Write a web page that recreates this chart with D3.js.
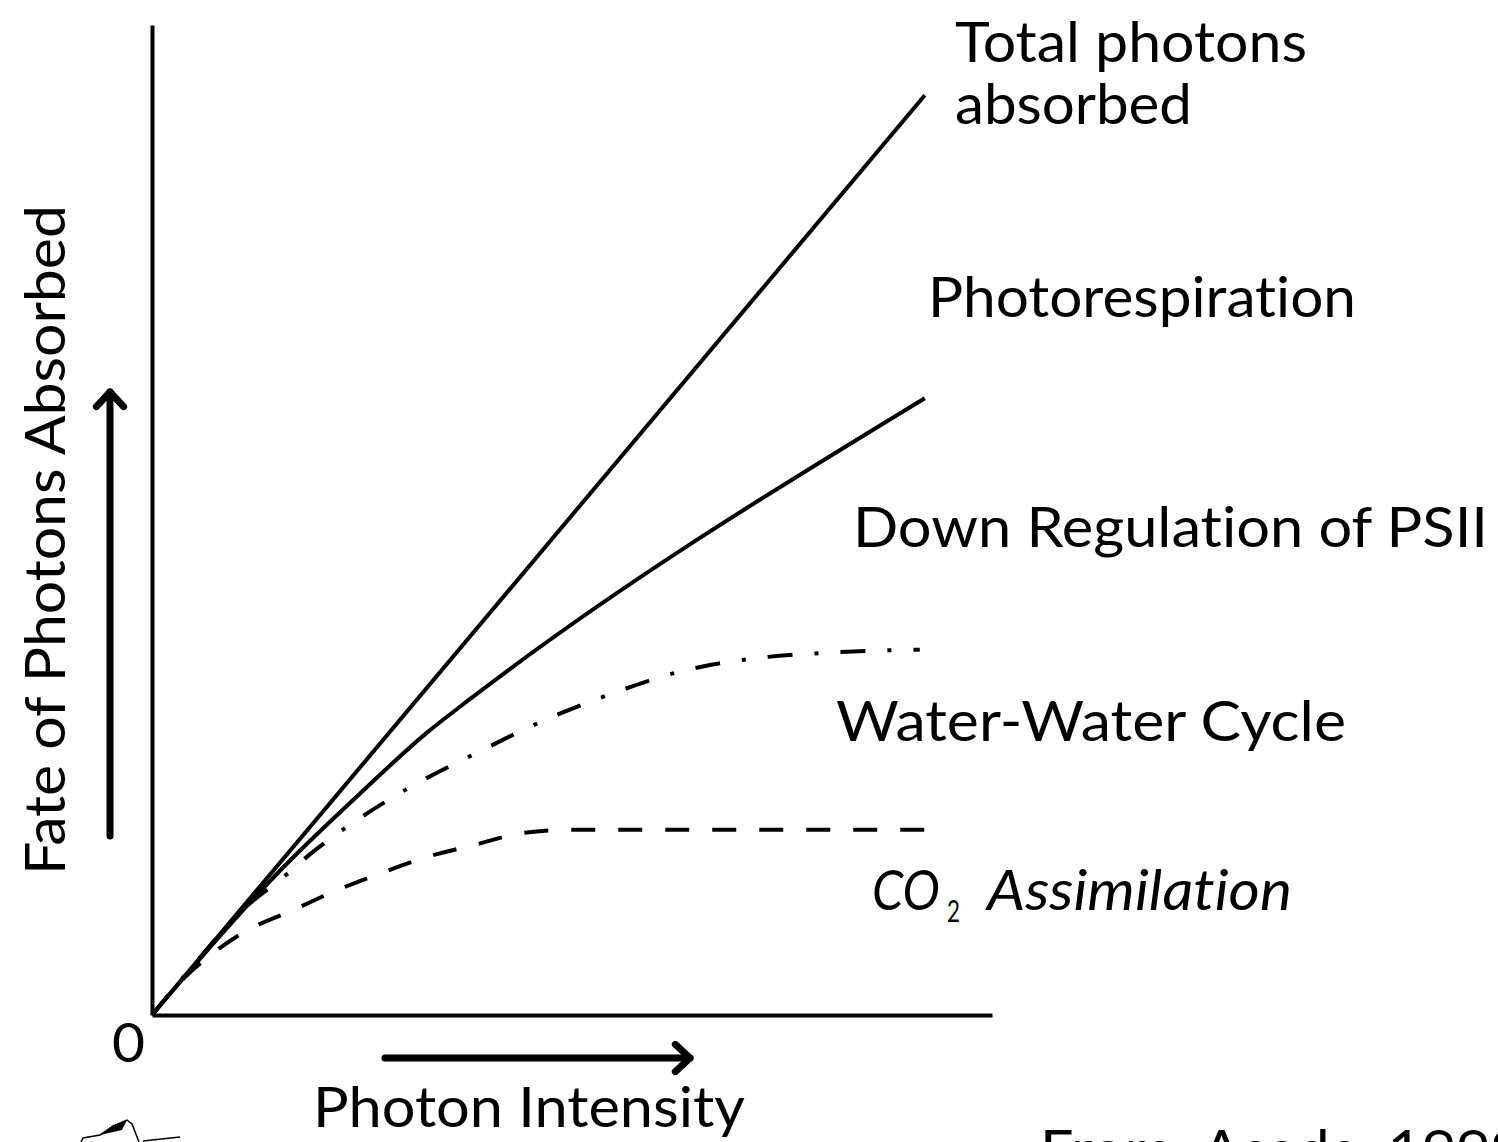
<!DOCTYPE html>
<html>
<head>
<meta charset="utf-8">
<script src="https://cdn.jsdelivr.net/npm/d3@7"></script>
<style>
  html, body { margin: 0; padding: 0; background: #fff; }
  svg { display: block; }
  text { font-variant-ligatures: none; font-feature-settings: "liga" 0, "clig" 0; }
</style>
</head>
<body>
<div id="chart"></div>
<script>
// x = photon intensity, y = fate of photons absorbed (arbitrary units 0-100)
var totalX = [0, 92.0];
var totalY = [0, 92.9];

var photorespX = [0, 15.6, 24.8, 32.7, 38.0, 92.0];
var photorespY = [0, 14.9, 22.4, 28.5, 32.0, 62.3];

var waterX = [0, 5.7, 10.5, 15.6, 19.2, 22.7, 30.5, 38.7, 46.8, 55.2, 62.9, 71.5, 80.4, 91.4];
var waterY = [0, 5.8, 10.4, 13.9, 16.5, 18.7, 22.9, 26.5, 29.8, 32.6, 34.7, 36.0, 36.6, 36.9];

var co2X = [0, 3.9, 6.9, 10.8, 16.8, 22.0, 27.5, 32.9, 38.5, 44.2, 49.8, 92.0];
var co2Y = [0, 3.8, 6.0, 8.3, 10.6, 12.6, 14.4, 16.0, 17.2, 18.4, 18.7, 18.7];

var labels = ["Total photons", "absorbed", "Photorespiration", "Down Regulation of PSII", "Water-Water Cycle", "Assimilation"];
var xTitle = "Photon Intensity";
var yTitle = "Fate of Photons Absorbed";
var source = "From: Asada, 1999";

var attrs = {
    svgWidth: 1498,
    svgHeight: 1142,
    plotLeft: 152,
    plotRight: 992,
    plotTop: 25,
    plotBottom: 1015,
    font: "Lato, 'Open Sans', sans-serif",
    ink: '#000'
};

var x = d3.scaleLinear().domain([0, 100]).range([attrs.plotLeft, attrs.plotRight]);
var y = d3.scaleLinear().domain([0, 100]).range([attrs.plotBottom, attrs.plotTop]);

var svg = d3.select('#chart').append('svg')
    .attr('width', attrs.svgWidth)
    .attr('height', attrs.svgHeight)
    .attr('font-family', attrs.font)
    .style('background', '#fff');

// axes (no ticks, just the two lines)
var axisX = d3.axisBottom(x).tickValues([]).tickSizeOuter(0);
var axisY = d3.axisLeft(y).tickValues([]).tickSizeOuter(0);

svg.append('g')
    .attr('transform', 'translate(0,' + attrs.plotBottom + ')')
    .call(axisX)
    .select('.domain').attr('stroke', attrs.ink).attr('stroke-width', 4);

svg.append('g')
    .attr('transform', 'translate(' + attrs.plotLeft + ',0)')
    .call(axisY)
    .select('.domain').attr('stroke', attrs.ink).attr('stroke-width', 4);

// series
function zip(xs, ys) {
    return xs.map(function (d, i) { return [d, ys[i]]; });
}

var line = d3.line()
    .x(function (d) { return x(d[0]); })
    .y(function (d) { return y(d[1]); })
    .curve(d3.curveMonotoneX);

var series = [
    { id: 'co2', pts: zip(co2X, co2Y), dash: '24,23' },
    { id: 'water', pts: zip(waterX, waterY), dash: '25,22,4,22' },
    { id: 'photoresp', pts: zip(photorespX, photorespY), dash: null },
    { id: 'total', pts: zip(totalX, totalY), dash: null }
];

svg.selectAll('path.series').data(series).enter().append('path')
    .attr('class', 'series')
    .attr('d', function (d) { return line(d.pts); })
    .attr('fill', 'none')
    .attr('stroke', attrs.ink)
    .attr('stroke-width', 4)
    .attr('stroke-dasharray', function (d) { return d.dash; });

// arrows next to the axes
function arrow(x1, y1, x2, y2) {
    var ang = Math.atan2(y2 - y1, x2 - x1);
    var len = 20, spread = Math.PI / 4.2;
    var g = svg.append('g')
        .attr('stroke', attrs.ink)
        .attr('stroke-width', 7)
        .attr('stroke-linecap', 'round')
        .attr('stroke-linejoin', 'round')
        .attr('fill', 'none');
    g.append('line').attr('x1', x1).attr('y1', y1).attr('x2', x2).attr('y2', y2);
    g.append('path').attr('d',
        'M' + (x2 - len * Math.cos(ang - spread)) + ',' + (y2 - len * Math.sin(ang - spread)) +
        'L' + x2 + ',' + y2 +
        'L' + (x2 - len * Math.cos(ang + spread)) + ',' + (y2 - len * Math.sin(ang + spread)));
}
arrow(110, 836, 110, 392);
arrow(385, 1058, 690, 1058);

// text helper
function label(txt, tx, ty, size, w, italic) {
    var t = svg.append('text')
        .attr('x', tx)
        .attr('y', ty)
        .attr('font-size', size)
        .attr('fill', attrs.ink)
        .text(txt);
    if (w) t.attr('textLength', w).attr('lengthAdjust', 'spacingAndGlyphs');
    if (italic) t.attr('font-style', 'italic');
    return t;
}

label(labels[0], 955, 62, 56, 352);
label(labels[1], 955, 124, 56, 237);
label(labels[2], 928, 317, 56, 428);
label(labels[3], 853, 547, 56, 635);
label(labels[4], 836, 741, 56, 510);
label('CO', 872, 910, 56, 68, true);
label('2', 947, 922, 30, 13);
label(labels[5], 987, 910, 56, 305, true);

label('0', 112, 1062, 54, 33);
label(xTitle, 313, 1127, 56, 432);
label(source, 1040, 1170, 56, 485);

svg.append('text')
    .attr('transform', 'translate(65,875) rotate(-90)')
    .attr('font-size', 56)
    .attr('fill', attrs.ink)
    .attr('textLength', 670)
    .attr('lengthAdjust', 'spacingAndGlyphs')
    .text(yTitle);

// little sketch peeking in at the bottom left corner
svg.append('path')
    .attr('d', 'M81,1142 L83,1138 L100,1135 L113,1126 L127,1120 L132,1124 L139,1142')
    .attr('fill', 'none')
    .attr('stroke', attrs.ink)
    .attr('stroke-width', 1.5);
svg.append('path')
    .attr('d', 'M100,1135 L113,1126 L127,1120 L122,1130 Z')
    .attr('fill', attrs.ink);
svg.append('path')
    .attr('d', 'M143,1141 L180,1137')
    .attr('stroke', attrs.ink)
    .attr('stroke-width', 1.5);
</script>
</body>
</html>
